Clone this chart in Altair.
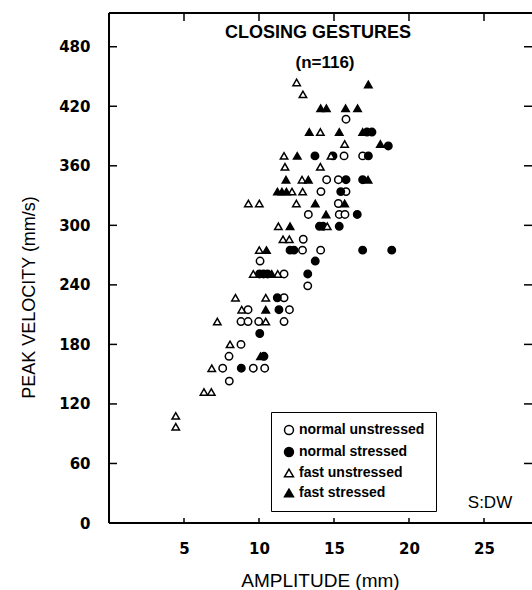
import altair as alt
import pandas as pd

# Peak velocity (mm/s) against amplitude (mm) for closing gestures, speaker DW
categories = ["normal unstressed", "normal stressed", "fast unstressed", "fast stressed"]

normal_unstressed_amp = [15.8, 15.67, 16.91, 14.51, 15.29, 14.13, 15.8, 15.29, 13.29, 15.35,
                         15.73, 12.95, 12.9, 14.11, 10.07, 11.67, 13.25, 11.67, 9.27, 12.03,
                         8.8, 9.27, 9.98, 11.67, 8.8, 8.0, 7.58, 9.62, 10.38, 8.02]
normal_unstressed_vel = [407, 370, 370, 346, 346, 334, 334, 322, 311, 311,
                         311, 286, 275, 275, 264, 251, 239, 227, 215, 215,
                         203, 203, 203, 203, 180, 168, 156, 156, 156, 143]

normal_stressed_amp = [17.2, 17.53, 18.62, 13.73, 14.93, 17.29, 15.8, 16.91, 15.45, 16.55,
                       14.03, 14.27, 15.35, 12.07, 12.33, 16.91, 18.85, 13.75, 10.03, 10.3,
                       10.57, 13.25, 11.22, 11.33, 10.05, 10.33, 8.82]
normal_stressed_vel = [394, 394, 380, 370, 370, 370, 346, 346, 334, 311,
                       299, 299, 299, 275, 275, 275, 275, 264, 251, 251,
                       251, 251, 227, 215, 191, 168, 156]

fast_unstressed_amp = [12.51, 12.93, 14.09, 15.71, 11.67, 14.8, 11.73, 14.09, 12.87, 12.2,
                       12.91, 9.29, 10.02, 12.49, 14.55, 11.29, 11.6, 12.02, 10.02, 9.62,
                       11.25, 8.43, 10.45, 8.85, 7.22, 10.45, 8.07, 6.85, 6.33, 6.82,
                       4.45, 4.45]
fast_unstressed_vel = [444, 432, 394, 382, 370, 370, 359, 359, 346, 334,
                       334, 322, 322, 322, 299, 299, 286, 286, 275, 251,
                       251, 227, 227, 215, 203, 203, 180, 156, 132, 132,
                       108, 97]

fast_stressed_amp = [17.29, 14.11, 14.49, 15.77, 16.57, 13.35, 15.35, 16.91, 18.09, 12.55,
                     11.8, 13.29, 17.27, 11.23, 11.53, 11.83, 13.75, 15.71, 14.47, 12.07,
                     10.5, 10.85, 10.45, 10.1]
fast_stressed_vel = [442, 418, 418, 418, 418, 394, 394, 394, 382, 370,
                     346, 346, 346, 334, 334, 334, 322, 322, 311, 299,
                     275, 251, 215, 168]

x_tick_values = [5, 10, 15, 20, 25]
y_tick_values = [0, 60, 120, 180, 240, 300, 360, 420, 480]
y_inner_ticks = [60, 120, 180, 240, 300, 360, 420, 480]

TITLE = "CLOSING GESTURES"
SUBTITLE = "(n=116)"
SPEAKER = "S:DW"

FONT = "Liberation Sans"
TICK_FONT = "DejaVu Sans"
W, H = 423, 510

rows = []
for cat, amps, vels in [
    (categories[0], normal_unstressed_amp, normal_unstressed_vel),
    (categories[1], normal_stressed_amp, normal_stressed_vel),
    (categories[2], fast_unstressed_amp, fast_unstressed_vel),
    (categories[3], fast_stressed_amp, fast_stressed_vel),
]:
    for a, v in zip(amps, vels):
        rows.append({"amp": a, "vel": v, "group": cat})
points_df = pd.DataFrame(rows)

x_scale = alt.Scale(domain=[0, 28.2], nice=False, zero=False)
y_scale = alt.Scale(domain=[0, 514], nice=False, zero=False)

x_axis = alt.Axis(values=x_tick_values, ticks=False, tickSize=0, domain=False, grid=False,
                  labelPadding=18, labelFontSize=15, labelFontWeight="bold", labelFont=TICK_FONT,
                  labelColor="black", title="AMPLITUDE (mm)", titleFont=FONT,
                  titleFontSize=19, titleFontWeight="normal", titleColor="black",
                  titleX=211, titleY=57, titleBaseline="middle")
y_axis = alt.Axis(values=y_tick_values, ticks=False, tickSize=0, domain=False, grid=False,
                  labelPadding=19, labelFontSize=15, labelFontWeight="bold", labelFont=TICK_FONT,
                  labelColor="black", title="PEAK VELOCITY (mm/s)", titleFont=FONT,
                  titleFontSize=18, titleFontWeight="normal", titleColor="black",
                  titleX=-80, titleY=284, titleBaseline="middle", titleAngle=-90)

X = alt.X("amp:Q", scale=x_scale, axis=x_axis)
Y = alt.Y("vel:Q", scale=y_scale, axis=y_axis)


def group_legend():
    return alt.Legend(title=None, orient="none", legendX=162, legendY=399,
                      direction="vertical", padding=11, strokeColor="black",
                      fillColor="white", labelFont=FONT, labelFontSize=14,
                      labelFontWeight="bold", labelColor="black", symbolSize=80,
                      symbolStrokeWidth=1.5, rowPadding=6, labelOffset=3)


points = alt.Chart(points_df).mark_point(
    filled=True, size=55, strokeWidth=1.5, opacity=1
).encode(
    x=X,
    y=Y,
    shape=alt.Shape("group:N", scale=alt.Scale(
        domain=categories, range=["circle", "circle", "triangle-up", "triangle-up"]),
        legend=group_legend()),
    fill=alt.Fill("group:N", scale=alt.Scale(
        domain=categories, range=["white", "black", "white", "black"]),
        legend=group_legend()),
    stroke=alt.Stroke("group:N", scale=alt.Scale(
        domain=categories, range=["black", "black", "black", "black"]),
        legend=group_legend()),
)

one = pd.DataFrame({"k": [0]})

# frame on left, top and bottom
frame_left = alt.Chart(one).mark_rule(color="black", strokeWidth=2).encode(
    x=alt.value(0), y=alt.value(0), y2=alt.value(H))
frame_top = alt.Chart(one).mark_rule(color="black", strokeWidth=2).encode(
    x=alt.value(0), x2=alt.value(W), y=alt.value(0))
frame_bottom = alt.Chart(one).mark_rule(color="black", strokeWidth=2).encode(
    x=alt.value(0), x2=alt.value(W), y=alt.value(H))

# inward tick marks on all four sides
yt = pd.DataFrame({"vel": y_inner_ticks})
xt = pd.DataFrame({"amp": x_tick_values})
ticks_left = alt.Chart(yt).mark_rule(color="black", strokeWidth=1.5).encode(
    y=Y, x=alt.value(0), x2=alt.value(8))
ticks_right = alt.Chart(yt).mark_rule(color="black", strokeWidth=1.5).encode(
    y=Y, x=alt.value(W - 8), x2=alt.value(W))
ticks_top = alt.Chart(xt).mark_rule(color="black", strokeWidth=1.5).encode(
    x=X, y=alt.value(0), y2=alt.value(8))
ticks_bottom = alt.Chart(xt).mark_rule(color="black", strokeWidth=1.5).encode(
    x=X, y=alt.value(H - 5), y2=alt.value(H))

title = alt.Chart(pd.DataFrame({"t": [TITLE]})).mark_text(
    font=FONT, fontSize=18, fontWeight="bold", color="black", align="center", baseline="middle"
).encode(text="t:N", x=alt.value(209), y=alt.value(20))
subtitle = alt.Chart(pd.DataFrame({"t": [SUBTITLE]})).mark_text(
    font=FONT, fontSize=17, fontWeight="bold", color="black", align="center", baseline="middle"
).encode(text="t:N", x=alt.value(216), y=alt.value(50))
speaker = alt.Chart(pd.DataFrame({"t": [SPEAKER]})).mark_text(
    font=FONT, fontSize=17, color="black", align="center", baseline="middle"
).encode(text="t:N", x=alt.value(381), y=alt.value(490))

chart = alt.layer(
    ticks_left, ticks_right, ticks_top, ticks_bottom,
    frame_left, frame_top, frame_bottom,
    points, title, subtitle, speaker,
).properties(
    width=W, height=H,
    padding={"left": 109, "top": 13, "right": 0, "bottom": 67},
    autosize=alt.AutoSizeParams(type="none"),
    background="white",
).configure_view(strokeWidth=0)

chart.save("out.html", embed_options={"renderer": "svg", "actions": False})
